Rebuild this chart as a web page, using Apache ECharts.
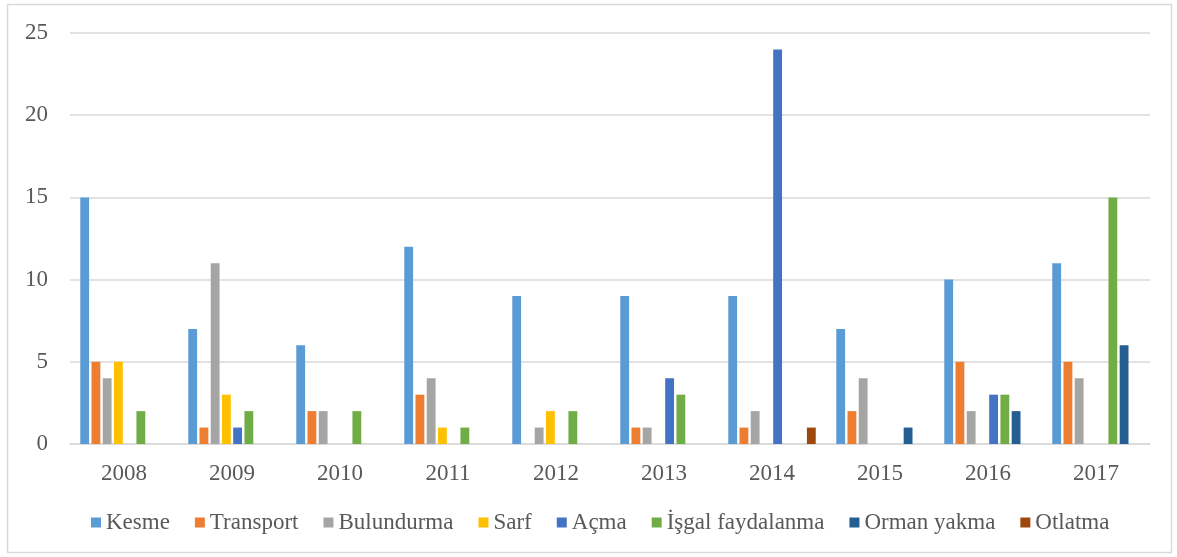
<!DOCTYPE html>
<html>
<head>
<meta charset="utf-8">
<script src="https://cdn.jsdelivr.net/npm/echarts@6/dist/echarts.min.js"></script>
<style>
html,body{margin:0;padding:0;background:#fff;}
#c{width:1177px;height:557px;}
</style>
</head>
<body>
<div id="c"></div>
<script>
const years = ['2008','2009','2010','2011','2012','2013','2014','2015','2016','2017'];
const seriesNames = ['Kesme','Transport','Bulundurma','Sarf','Açma','İşgal faydalanma','Orman yakma','Otlatma'];
const kesme      = [15, 7, 6, 12, 9, 9, 9, 7, 10, 11];
const transport  = [5, 1, 2, 3, 0, 1, 1, 2, 5, 5];
const bulundurma = [4, 11, 2, 4, 1, 1, 2, 4, 2, 4];
const sarf       = [5, 3, 0, 1, 2, 0, 0, 0, 0, 0];
const acma       = [0, 1, 0, 0, 0, 4, 24, 0, 3, 0];
const isgal      = [2, 2, 2, 1, 2, 3, 0, 0, 3, 15];
const ormanYakma = [0, 0, 0, 0, 0, 0, 0, 1, 2, 6];
const otlatma    = [0, 0, 0, 0, 0, 0, 1, 0, 0, 0];
const yTicks = [0, 5, 10, 15, 20, 25];

const colors = ['#5B9BD5','#ED7D31','#A5A5A5','#FFC000','#4472C4','#70AD47','#255E91','#9E480E'];
const allData = [kesme, transport, bulundurma, sarf, acma, isgal, ormanYakma, otlatma];
const font = 'Liberation Serif';

const chart = echarts.init(document.getElementById('c'));
chart.setOption({
  animation: false,
  backgroundColor: '#fff',
  color: colors,
  graphic: [{
    type: 'rect',
    shape: {x: 7.5, y: 4.5, width: 1164, height: 548},
    style: {fill: 'none', stroke: '#d9d9d9', lineWidth: 1.5},
    silent: true
  }],
  grid: {left: 70, right: 27, top: 33, bottom: 113, containLabel: false},
  legend: {
    data: seriesNames,
    bottom: 18,
    left: 86,
    itemWidth: 10,
    itemHeight: 10,
    itemGap: 25,
    icon: 'rect',
    textStyle: {fontFamily: font, fontSize: 23, color: '#595959'}
  },
  xAxis: {
    type: 'category',
    data: years,
    axisLine: {lineStyle: {color: '#d9d9d9', width: 1.5}},
    axisTick: {show: false},
    axisLabel: {fontFamily: font, fontSize: 23, color: '#595959', margin: 18}
  },
  yAxis: {
    type: 'value',
    min: yTicks[0],
    max: yTicks[yTicks.length-1],
    interval: 5,
    axisLine: {show: false},
    axisTick: {show: false},
    axisLabel: {fontFamily: font, fontSize: 23, color: '#595959', margin: 22},
    splitLine: {lineStyle: {color: '#d9d9d9', width: 1.5}}
  },
  series: seriesNames.map((n, i) => ({
    name: n,
    type: 'bar',
    data: allData[i],
    barGap: '27%',
    barCategoryGap: '19%',
    itemStyle: {color: colors[i]}
  }))
});
</script>
</body>
</html>
